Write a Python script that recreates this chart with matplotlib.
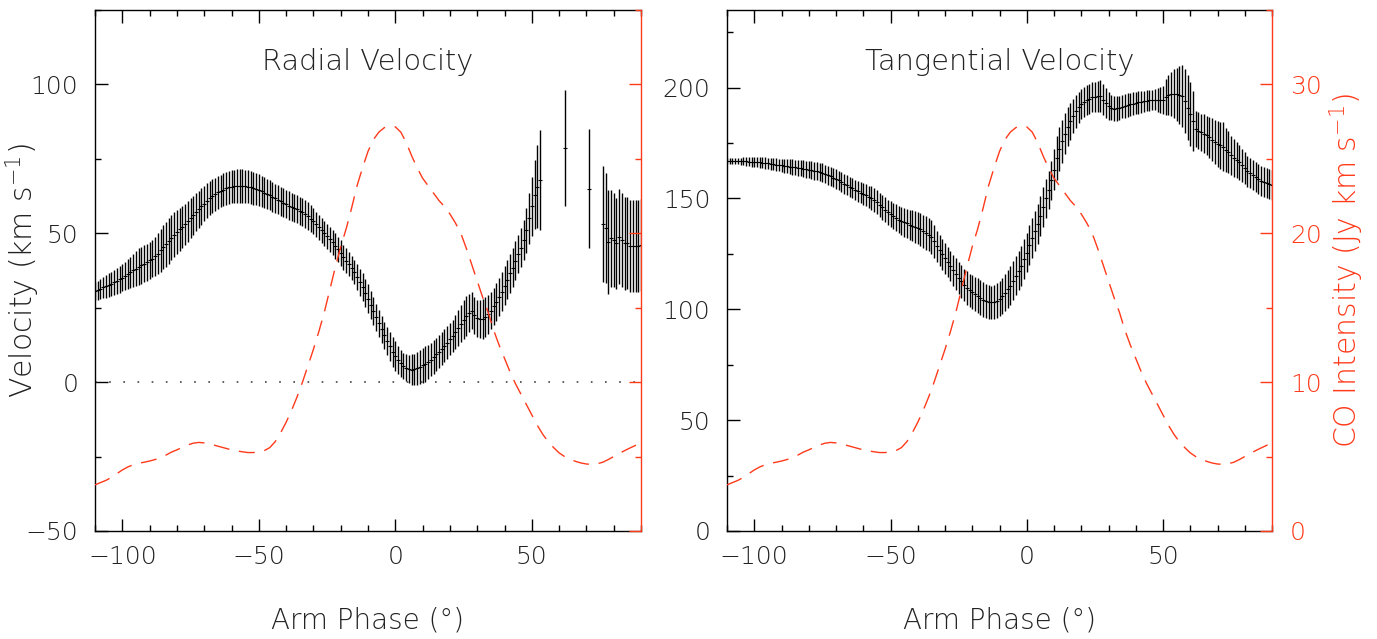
import numpy as np
import matplotlib
matplotlib.use("Agg")
import matplotlib.pyplot as plt
from matplotlib.ticker import MultipleLocator, NullFormatter

plt.rcParams['font.family'] = ['DejaVu Sans']
plt.rcParams['font.weight'] = 200
plt.rcParams['axes.labelweight'] = 200
plt.rcParams['mathtext.fontset'] = 'custom'
plt.rcParams['mathtext.rm'] = 'DejaVu Sans:weight=200'
plt.rcParams['mathtext.default'] = 'rm'

# ---- radial velocity (km/s) vs arm phase (deg) ----
rad_phase = list(range(-110, 54)) + [62, 71] + list(range(76, 91))
rad_vel = [
    30.5, 30.8, 31.3, 31.8, 32.2, 32.6, 33.0, 33.5, 34.0, 34.6,
    35.1, 35.7, 36.3, 36.9, 37.5, 38.1, 38.7, 39.2, 39.8, 40.3,
    40.9, 41.5, 42.3, 43.2, 44.3, 45.3, 46.3, 47.4, 48.5, 49.5,
    50.4, 51.3, 52.2, 53.1, 54.0, 55.0, 56.0, 57.0, 58.0, 59.0,
    60.0, 61.0, 61.8, 62.5, 63.1, 63.7, 64.2, 64.7, 65.1, 65.4,
    65.7, 65.8, 65.9, 65.9, 65.9, 65.8, 65.6, 65.4, 65.1, 64.9,
    64.5, 64.1, 63.6, 63.2, 62.8, 62.3, 61.8, 61.3, 60.8, 60.3,
    59.8, 59.3, 58.8, 58.4, 58.0, 57.5, 57.0, 56.5, 55.8, 54.9,
    54.0, 53.0, 52.0, 51.0, 50.0, 49.0, 48.0, 47.0, 45.8, 44.6,
    43.3, 42.0, 40.8, 39.6, 38.3, 36.9, 35.3, 33.6, 31.8, 30.0,
    28.0, 26.0, 23.9, 21.8, 19.7, 17.7, 15.7, 13.8, 12.0, 10.2,
    8.7, 7.4, 6.3, 5.4, 4.8, 4.4, 4.2, 4.3, 4.6, 5.1,
    5.6, 6.1, 6.8, 7.6, 8.4, 9.3, 10.2, 11.2, 12.2, 13.3,
    14.4, 15.5, 16.8, 18.2, 19.6, 21.0, 22.2, 23.2, 24.0, 22.4,
    21.4, 21.2, 21.3, 21.8, 22.8, 24.0, 25.5, 27.0, 28.7, 30.4,
    32.4, 34.4, 36.5, 38.5, 40.8, 43.0, 45.2, 47.8, 51.0, 55.0,
    59.0, 63.0, 65.7, 68.0,
    78.6, 65.0,
    53.0, 51.7, 47.2, 48.3, 47.8, 46.6, 48.9, 47.8, 46.6, 46.8,
    45.8, 45.8, 45.8, 45.8, 46.0,
]
rad_err = [
    3.0, 3.2, 3.4, 3.6, 3.8, 4.0, 4.1, 4.2, 4.4, 4.5,
    4.6, 4.7, 5.0, 5.3, 5.6, 5.9, 6.2, 6.2, 6.2, 6.2,
    6.2, 6.3, 6.6, 6.9, 7.2, 7.4, 7.5, 7.6, 7.6, 7.5,
    7.4, 7.2, 7.0, 6.9, 6.8, 6.7, 6.5, 6.4, 6.2, 6.1,
    6.0, 5.9, 5.8, 5.7, 5.6, 5.6, 5.5, 5.5, 5.5, 5.5,
    5.6, 5.6, 5.6, 5.6, 5.6, 5.6, 5.5, 5.5, 5.5, 5.4,
    5.4, 5.3, 5.2, 5.1, 5.0, 5.0, 4.9, 4.9, 4.9, 4.8,
    4.8, 4.8, 4.8, 4.7, 4.7, 4.7, 4.7, 4.7, 4.6, 4.5,
    4.4, 4.3, 4.2, 4.2, 4.2, 4.2, 4.2, 4.2, 4.3, 4.3,
    4.3, 4.2, 4.1, 4.0, 4.0, 4.1, 4.3, 4.5, 4.7, 4.8,
    4.8, 4.7, 4.6, 4.5, 4.5, 4.5, 4.6, 4.7, 4.8, 5.0,
    5.0, 4.8, 4.6, 4.5, 4.5, 4.8, 5.1, 5.3, 5.5, 5.7,
    5.9, 5.9, 5.8, 5.7, 5.6, 5.6, 5.6, 5.5, 5.5, 5.4,
    5.4, 5.4, 5.6, 5.9, 6.2, 6.5, 6.7, 6.5, 6.2, 6.2,
    6.2, 6.4, 6.7, 6.7, 6.5, 6.3, 6.2, 6.3, 6.4, 6.5,
    6.5, 6.5, 6.5, 6.5, 6.5, 6.5, 6.5, 6.8, 7.5, 8.5,
    10.0, 11.5, 14.0, 16.8,
    19.5, 20.0,
    19.5, 18.5, 17.5, 16.4, 15.7, 15.4, 16.0, 15.7, 15.7, 15.5,
    15.4, 15.4, 15.4, 15.4, 15.4,
]

# ---- tangential velocity (km/s) ----
tan_phase = list(range(-110, 91))
tan_vel = [
    167.0, 167.0, 167.0, 166.9, 166.9, 166.8, 166.8, 166.7, 166.6, 166.6,
    166.5, 166.4, 166.3, 166.1, 166.0, 165.8, 165.6, 165.4, 165.3, 165.1,
    164.9, 164.8, 164.6, 164.4, 164.2, 164.0, 163.8, 163.6, 163.4, 163.1,
    162.9, 162.7, 162.5, 162.2, 162.0, 161.6, 161.1, 160.5, 160.0, 159.4,
    158.8, 158.1, 157.4, 156.7, 156.0, 155.3, 154.6, 153.9, 153.2, 152.6,
    152.0, 151.4, 150.8, 150.2, 149.2, 148.2, 147.1, 146.0, 144.9, 143.8,
    142.9, 142.0, 141.2, 140.5, 139.8, 139.2, 138.7, 138.2, 137.7, 137.2,
    136.7, 136.0, 135.2, 134.4, 133.6, 132.6, 130.6, 128.4, 126.6, 124.8,
    123.0, 121.3, 119.5, 117.7, 115.9, 114.2, 112.6, 111.0, 109.6, 108.6,
    107.7, 106.9, 106.1, 105.3, 104.4, 103.8, 103.3, 103.1, 103.3, 103.9,
    104.8, 106.0, 107.5, 109.0, 110.7, 112.8, 115.2, 117.5, 119.7, 122.5,
    125.6, 129.0, 132.2, 135.2, 138.4, 142.2, 146.0, 150.0, 154.0, 158.2,
    163.0, 168.3, 172.4, 175.8, 179.2, 182.3, 184.8, 187.2, 189.3, 191.2,
    192.6, 193.5, 194.3, 195.0, 195.6, 195.9, 196.1, 196.2, 194.6, 193.0,
    191.8, 191.0, 190.4, 190.6, 191.0, 191.4, 191.8, 192.1, 192.4, 192.7,
    193.0, 193.3, 193.6, 193.8, 194.0, 194.2, 194.4, 194.5, 194.3, 194.4,
    194.4, 195.8, 196.5, 197.0, 197.2, 197.0, 196.8, 196.3, 194.0, 191.0,
    188.0, 185.0, 181.4, 180.5, 179.8, 179.2, 178.4, 177.5, 176.5, 175.5,
    174.6, 174.0, 173.3, 172.0, 170.8, 169.4, 168.2, 167.2, 166.3, 165.0,
    163.7, 162.3, 161.5, 160.7, 159.8, 158.9, 158.0, 157.5, 157.0, 156.5,
    156.0,
]
tan_err = [
    1.3, 1.3, 1.3, 1.3, 1.3, 1.5, 1.7, 1.9, 2.1, 2.2,
    2.3, 2.4, 2.4, 2.5, 2.5, 2.6, 2.6, 2.7, 2.8, 2.9,
    3.0, 3.1, 3.2, 3.3, 3.4, 3.5, 3.6, 3.7, 3.8, 3.9,
    3.9, 4.0, 4.0, 4.1, 4.1, 4.2, 4.2, 4.3, 4.3, 4.4,
    4.5, 4.5, 4.5, 4.5, 4.5, 4.5, 4.5, 4.5, 4.6, 4.7,
    4.8, 4.9, 5.0, 5.2, 5.3, 5.4, 5.5, 5.5, 5.6, 5.6,
    5.8, 6.0, 6.1, 6.3, 6.4, 6.4, 6.6, 6.8, 7.0, 7.2,
    7.4, 7.5, 7.5, 7.5, 7.5, 7.5, 7.3, 7.1, 7.0, 6.9,
    6.9, 6.8, 6.8, 7.0, 7.1, 7.2, 7.3, 7.4, 7.5, 7.5,
    7.6, 7.8, 7.9, 7.9, 7.9, 7.8, 7.6, 7.5, 7.6, 7.8,
    8.0, 8.2, 8.4, 8.6, 8.7, 8.8, 8.9, 9.0, 9.0, 9.0,
    9.0, 9.0, 9.0, 9.0, 9.0, 9.0, 9.0, 8.8, 8.6, 8.8,
    9.3, 9.8, 9.8, 9.6, 9.2, 8.8, 8.4, 7.8, 7.3, 7.0,
    6.9, 6.8, 6.8, 6.8, 6.8, 6.8, 7.0, 7.3, 7.0, 6.7,
    6.2, 5.8, 5.6, 5.5, 5.4, 5.3, 5.3, 5.3, 5.2, 5.2,
    5.1, 5.0, 4.9, 4.8, 4.7, 4.6, 4.6, 4.8, 5.5, 6.0,
    6.5, 8.0, 9.0, 10.0, 11.0, 12.0, 13.0, 14.0, 14.5, 14.8,
    14.5, 13.5, 8.0, 8.3, 8.5, 8.7, 9.0, 9.3, 9.6, 9.8,
    10.2, 10.6, 11.0, 10.0, 9.4, 8.9, 8.5, 8.1, 7.8, 7.5,
    7.2, 7.0, 6.9, 6.8, 6.8, 6.8, 6.8, 6.8, 6.8, 6.8,
    6.8,
]

# ---- CO intensity (Jy km/s), same profile in both panels ----
co_phase = list(range(-110, 91, 2))
co_int = [
    3.1, 3.25, 3.4, 3.6, 3.85, 4.1, 4.3, 4.45, 4.55, 4.62,
    4.7, 4.8, 4.95, 5.1, 5.3, 5.45, 5.62, 5.78, 5.9, 5.95,
    5.92, 5.85, 5.75, 5.65, 5.55, 5.45, 5.38, 5.32, 5.27, 5.27,
    5.3, 5.4, 5.6, 6.0, 6.6, 7.3, 8.1, 9.0, 10.0, 11.1,
    12.2, 13.4, 14.7, 16.2, 17.7, 19.1, 20.3, 21.7, 23.2, 24.4,
    25.5, 26.3, 26.8, 27.1, 27.2, 27.15, 26.8, 26.1, 25.2, 24.4,
    23.7, 23.2, 22.7, 22.2, 21.8, 21.3, 20.7, 20.0, 19.0, 17.9,
    16.8, 15.7, 14.7, 13.5, 12.5, 11.6, 10.7, 9.9, 9.2, 8.5,
    7.8, 7.1, 6.5, 6.0, 5.6, 5.25, 5.0, 4.82, 4.68, 4.57,
    4.5, 4.48, 4.52, 4.62, 4.8, 5.0, 5.2, 5.4, 5.58, 5.75,
    5.9,
]

RED = '#ff3a1a'
TXT = '#222222'
W, H = 1377, 639


def panel(rect, phase, vel, err, ylim, ymajor, title, show_co_labels):
    ax = fig.add_axes(rect)
    ax.errorbar(phase, vel, yerr=err, fmt='none', ecolor='k', elinewidth=1.0, capsize=0)
    ax.plot(phase, vel, ls='none', marker='_', ms=2.5, mew=0.8, color='k')
    ax.set_xlim(-110, 90)
    ax.set_ylim(*ylim)
    ax.xaxis.set_major_locator(MultipleLocator(50))
    ax.xaxis.set_minor_locator(MultipleLocator(10))
    ax.yaxis.set_major_locator(MultipleLocator(ymajor))
    ax.yaxis.set_minor_locator(MultipleLocator(ymajor / 2))
    ax.tick_params(which='both', direction='in', top=True, right=False, colors='k',
                   labelcolor=TXT, labelsize=18, width=1.0)
    ax.tick_params(which='major', length=9)
    ax.tick_params(which='minor', length=4.5)
    ax.tick_params(axis='y', pad=12)
    ax.tick_params(axis='x', pad=10)
    ax.spines['right'].set_visible(False)
    for s in ('left', 'top', 'bottom'):
        ax.spines[s].set_linewidth(1.0)
    ax.set_xlabel('Arm Phase (°)', fontsize=20, color=TXT)
    ax.xaxis.set_label_coords(0.5, -0.145)
    ax.text(0.5, 0.9, title, transform=ax.transAxes, ha='center', va='center',
            fontsize=20.8, color=TXT)

    co = ax.twinx()
    co.plot(co_phase, co_int, color=RED, lw=1.0, dashes=(11.5, 7))
    co.set_ylim(0, 35)
    co.yaxis.set_major_locator(MultipleLocator(10))
    co.yaxis.set_minor_locator(MultipleLocator(5))
    co.tick_params(which='both', direction='in', colors=RED, labelsize=18, width=1.0, pad=13)
    co.tick_params(which='major', length=9)
    co.tick_params(which='minor', length=4.5)
    for s in ('left', 'top', 'bottom'):
        co.spines[s].set_visible(False)
    co.spines['right'].set_color(RED)
    co.spines['right'].set_linewidth(1.0)
    if show_co_labels:
        co.set_ylabel('CO Intensity (Jy km s$^{-1}$)', fontsize=21.5, color=RED, rotation=90)
        co.yaxis.set_label_coords(1.101, 0.5)
    else:
        co.yaxis.set_major_formatter(NullFormatter())
    return ax


fig = plt.figure(figsize=(W / 100, H / 100), dpi=100)

left = panel([95 / W, 108 / H, 546 / W, 521 / H], rad_phase, rad_vel, rad_err,
             (-50, 125), 50, 'Radial Velocity', False)
left.axhline(0, color='#444444', lw=1.2, dashes=(1, 7.5))
left.set_ylabel('Velocity (km s$^{-1}$)', fontsize=21.5, color=TXT)
left.yaxis.set_label_coords(-0.097, 0.5)

right = panel([727 / W, 108 / H, 545 / W, 521 / H], tan_phase, tan_vel, tan_err,
              (0, 235), 50, 'Tangential Velocity', True)

fig.savefig('out.png', dpi=100)
